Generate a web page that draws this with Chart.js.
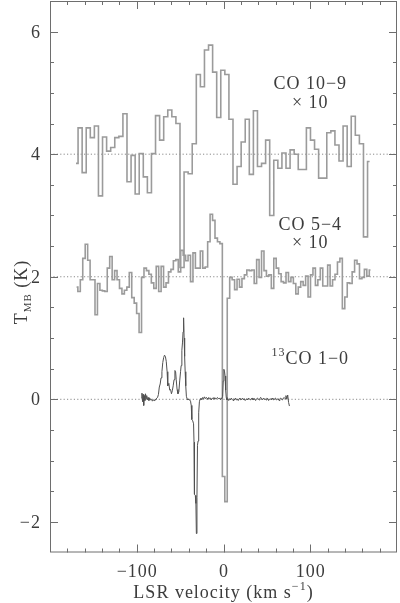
<!DOCTYPE html>
<html>
<head>
<meta charset="utf-8">
<script src="https://cdn.jsdelivr.net/npm/chart.js@4.4.1/dist/chart.umd.min.js"></script>
<style>
html,body{margin:0;padding:0;background:#fff;}
canvas{display:block;}
</style>
</head>
<body>
<canvas id="c" width="400" height="603"></canvas>
<script>
// ---------------- DATA ----------------
// CO 10-9 (x10, offset to the 4 K baseline): channel centre of first bin and channel width (km/s)
const co109Start = -170.0;
const co109Step = 4.70;
const co109Values = [
  3.85,4.43,3.70,4.43,4.27,4.46,3.32,4.28,4.05,4.11,
  4.27,4.29,4.66,3.55,3.98,3.35,4.01,3.63,3.37,4.01,
  4.63,4.23,4.61,4.72,4.61,4.50,2.15,3.71,3.68,4.17,
  5.30,5.10,5.70,5.78,5.34,4.60,5.37,5.30,4.57,3.51,
  3.80,4.20,4.57,3.67,4.71,3.80,3.85,4.23,3.00,3.90,
  3.77,4.02,3.77,4.07,4.00,3.75,3.75,4.43,4.23,4.08,
  3.61,3.61,4.35,4.38,4.15,3.89,4.46,3.80,4.62,4.31,
  4.17,2.65,3.88
];

// CO 5-4 (x10, offset to the 2 K baseline)
const co54Start = -169.3;
const co54Step = 2.823;
const co54Values = [
  1.83,1.76,1.95,2.30,2.53,2.27,1.95,1.95,1.38,1.89,
  1.78,1.77,1.76,2.14,2.33,1.95,2.10,1.95,1.81,1.72,
  1.78,1.83,2.07,1.66,1.57,1.40,1.09,1.99,2.14,2.10,
  2.04,1.90,1.81,2.17,1.76,2.17,1.83,1.90,2.08,2.12,
  2.26,2.28,2.08,2.43,2.35,2.26,2.35,1.92,2.39,2.14,
  2.14,2.42,2.14,2.16,2.57,3.02,2.92,2.63,2.57,2.54,
  -1.26,-1.67,
  1.65,1.99,1.95,1.79,1.96,1.83,1.97,2.03,2.11,2.10,
  2.11,1.89,2.28,1.99,2.42,2.10,2.01,2.03,1.81,2.30,
  2.14,2.05,1.92,1.90,2.07,1.92,1.99,1.89,1.72,1.83,
  1.92,1.86,2.01,1.67,2.03,2.14,1.86,1.95,2.14,1.85,
  1.85,2.19,1.85,1.95,2.04,2.24,2.30,1.48,1.67,1.90,
  1.89,2.08,2.27,2.21,1.97,1.99,2.12,2.01,2.11
];

// 13CO 1-0 (unscaled, 0 K baseline)
const co13Velocity = [
  -94.6,-94.0,-93.3,-92.7,-92.0,-91.3,-90.6,-89.9,-89.2,-88.5,
  -87.8,-87.0,-86.0,-85.0,-84.0,-83.0,-82.0,-81.0,-80.0,-79.0,
  -78.0,-77.0,-76.0,-75.0,-74.0,-73.0,-72.0,-71.0,-70.0,-69.0,
  -68.0,-67.0,-66.0,-65.0,-64.5,-64.0,-63.0,-62.0,-61.0,-60.0,
  -59.0,-58.0,-57.0,-56.0,-55.2,-54.5,-53.5,-52.5,-51.5,-50.5,
  -49.5,-48.8,-48.0,-47.3,-46.6,-46.0,-45.4,-44.8,-44.2,-43.5,
  -42.8,-42.0,-41.0,-40.0,-39.0,-38.0,-37.2,-36.5,-35.5,-34.5,
  -34.0,-33.5,-32.5,-31.8,-31.3,-30.6,-30.0,-29.3,-28.6,-27.8,
  -27.0,-26.0,-25.0,-24.0,-23.0,-22.0,-21.0,-20.0,-19.0,-18.0,
  -17.0,-16.0,-15.0,-14.0,-13.0,-12.0,-11.0,-10.0,-9.0,-8.0,
  -7.0,-6.0,-5.0,-4.0,-3.0,-2.0,-1.0,-0.3,0.4,1.1,
  1.8,2.5,3.2,4.0,5.0,6.0,7.0,8.0,9.0,10.0,
  11.0,12.0,13.0,14.0,15.0,16.0,17.0,18.0,19.0,20.0,
  21.0,22.0,23.0,24.0,25.0,26.0,27.0,28.0,29.0,30.0,
  31.0,32.0,33.0,34.0,35.0,36.0,37.0,38.0,39.0,40.0,
  41.0,42.0,43.0,44.0,45.0,46.0,47.0,48.0,49.0,50.0,
  51.0,52.0,53.0,54.0,55.0,56.0,57.0,58.0,59.0,60.0,
  61.0,62.0,63.0,64.0,65.0,66.0,67.0,68.0,69.0,70.0,
  71.0,72.0,73.0,74.0,75.0,76.0
];
const co13Values = [
  0.02,0.10,-0.04,0.08,-0.10,0.06,-0.02,0.09,0.01,0.06,
  -0.01,0.03,-0.02,0.02,-0.01,0.00,-0.03,-0.01,-0.02,0.00,
  -0.01,0.02,0.03,0.08,0.20,0.25,0.35,0.45,0.60,0.68,
  0.72,0.70,0.62,0.45,0.30,0.22,0.26,0.15,0.16,0.09,
  0.14,0.22,0.32,0.47,0.45,0.32,0.16,0.09,0.12,0.30,
  0.45,0.55,0.80,0.92,1.10,1.33,1.00,0.70,0.45,0.22,
  0.05,0.01,-0.01,0.00,-0.01,-0.03,-0.10,-0.33,-0.35,-0.40,
  -0.70,-1.55,-1.57,-1.70,-2.19,-1.60,-0.75,-0.68,-0.22,-0.04,
  0.00,0.02,-0.01,0.03,0.01,0.04,0.01,0.03,0.02,0.00,
  0.03,0.01,0.02,-0.01,0.02,0.01,0.03,0.00,0.02,0.01,
  0.03,0.01,0.02,0.00,0.02,0.01,0.05,0.30,0.49,0.46,
  0.38,0.15,0.03,-0.01,0.01,-0.02,0.01,-0.01,0.02,0.00,
  -0.02,0.01,-0.01,0.02,-0.01,0.00,-0.02,0.01,0.02,-0.01,
  0.00,0.02,-0.01,0.01,-0.02,0.00,0.01,-0.01,0.02,0.00,
  -0.01,0.01,0.02,-0.01,0.00,0.01,-0.02,0.00,0.02,0.01,
  -0.01,0.02,0.03,0.01,-0.01,0.02,0.00,0.01,-0.01,0.02,
  0.01,-0.02,0.00,0.01,-0.01,0.02,0.00,-0.01,0.01,0.02,
  -0.01,0.00,0.01,-0.02,0.01,0.02,0.00,-0.01,0.02,0.03,
  0.01,0.06,0.00,0.07,-0.05,-0.11
];

// Dotted baselines and axis tick labels
const baselineLevels = [0, 2, 4];
const xTickLabels = [-100, 0, 100];
const yTickLabels = [-2, 0, 2, 4, 6];
const xRange = [-200, 200];
const yRange = [-2.5, 6.5];
const xMinorStep = 20;
const yMinorStep = 0.5;

// Text annotations (placed in data coordinates)
const annotations = [
  {text: 'CO 10\u22129', x: 100, y: 5.06},
  {text: '\u00d7 10', x: 100, y: 4.76},
  {text: 'CO 5\u22124', x: 100, y: 2.77},
  {text: '\u00d7 10', x: 100, y: 2.47},
  {sup: '13', text: 'CO 1\u22120', x: 100, y: 0.576}
];

// ---------------- STYLE ----------------
const FONT = '"Liberation Serif", "Times New Roman", serif';
const TEXT_COLOR = '#3c3c3c';
const AXIS_COLOR = '#6e6e6e';
const CO_COLOR = '#9b9b9b';
const CO13_COLOR = '#505050';

function series(start, step, vals) {
  return vals.map((v, i) => ({x: start + i * step, y: v}));
}
function pairs(xs, ys) {
  return xs.map((x, i) => ({x: x, y: ys[i]}));
}

const datasets = [];
baselineLevels.forEach(level => {
  datasets.push({
    data: [{x: xRange[0], y: level}, {x: xRange[1], y: level}],
    borderColor: '#8a8a8a', borderWidth: 1, borderDash: [1.2, 2.2],
    pointRadius: 0, fill: false, order: 5
  });
});
datasets.push({
  data: series(co109Start, co109Step, co109Values),
  borderColor: CO_COLOR, borderWidth: 1.6, stepped: 'middle',
  pointRadius: 0, fill: false, order: 3
});
datasets.push({
  data: series(co54Start, co54Step, co54Values),
  borderColor: CO_COLOR, borderWidth: 1.6, stepped: 'middle',
  pointRadius: 0, fill: false, order: 2
});
datasets.push({
  data: pairs(co13Velocity, co13Values),
  borderColor: CO13_COLOR, borderWidth: 1, tension: 0,
  pointRadius: 0, fill: false, order: 1
});

function drawText(ctx, str, x, y, size, align) {
  ctx.font = size + 'px ' + FONT;
  ctx.textAlign = align || 'left';
  ctx.fillText(str, x, y);
}

const decor = {
  id: 'decor',
  afterDatasetsDraw(chart) {
    const {ctx, chartArea: a, scales} = chart;
    const xs = scales.x, ys = scales.y;
    ctx.save();
    ctx.strokeStyle = AXIS_COLOR;
    ctx.lineWidth = 1;
    ctx.setLineDash([]);
    ctx.strokeRect(a.left + 0.5, a.top + 0.5, a.right - a.left - 1, a.bottom - a.top - 1);

    ctx.beginPath();
    // x ticks (bottom & top, inward)
    for (let v = xRange[0] + xMinorStep; v < xRange[1]; v += xMinorStep) {
      const px = Math.round(xs.getPixelForValue(v)) + 0.5;
      const len = xTickLabels.includes(v) ? 8 : 4;
      ctx.moveTo(px, a.bottom); ctx.lineTo(px, a.bottom - len);
      ctx.moveTo(px, a.top); ctx.lineTo(px, a.top + len);
    }
    // y ticks (left & right, inward)
    for (let t = yRange[0] + yMinorStep; t < yRange[1] - 1e-6; t += yMinorStep) {
      const py = Math.round(ys.getPixelForValue(t)) + 0.5;
      const major = yTickLabels.some(l => Math.abs(l - t) < 1e-6);
      const len = major ? 8 : 4;
      ctx.moveTo(a.left, py); ctx.lineTo(a.left + len, py);
      ctx.moveTo(a.right, py); ctx.lineTo(a.right - len, py);
    }
    ctx.stroke();

    ctx.fillStyle = TEXT_COLOR;
    ctx.textBaseline = 'alphabetic';
    ctx.letterSpacing = '1px';
    const fmt = v => (v < 0 ? '\u2212' + Math.abs(v) : String(v));
    xTickLabels.forEach(v => {
      drawText(ctx, fmt(v), xs.getPixelForValue(v) + 0.5, a.bottom + 24.5, 18, 'center');
    });
    yTickLabels.forEach(t => {
      drawText(ctx, fmt(t), a.left - 9, ys.getPixelForValue(t) + 6, 18, 'right');
    });

    // x title with superscript
    ctx.font = '18px ' + FONT;
    const t1 = 'LSR velocity (km s';
    const t2 = '\u22121';
    const t3 = ')';
    const w1 = ctx.measureText(t1).width;
    ctx.font = '12px ' + FONT;
    const w2 = ctx.measureText(t2).width;
    ctx.font = '18px ' + FONT;
    const w3 = ctx.measureText(t3).width;
    const cx = (a.left + a.right) / 2;
    let sx = cx - (w1 + w2 + w3) / 2;
    const by = 597.5;
    drawText(ctx, t1, sx, by, 18, 'left');
    drawText(ctx, t2, sx + w1, by - 8, 12, 'left');
    drawText(ctx, t3, sx + w1 + w2, by, 18, 'left');

    // y title (rotated) T_MB (K)
    ctx.save();
    ctx.translate(27, 292);
    ctx.rotate(-Math.PI / 2);
    ctx.font = '18px ' + FONT;
    const ya = 'T', yb = 'MB', yc = ' (K)';
    const wa = ctx.measureText(ya).width;
    ctx.font = '11px ' + FONT;
    const wb = ctx.measureText(yb).width;
    ctx.font = '18px ' + FONT;
    const wc = ctx.measureText(yc).width;
    let s = -(wa + wb + wc) / 2;
    drawText(ctx, ya, s, 0, 18, 'left');
    drawText(ctx, yb, s + wa, 4, 11, 'left');
    drawText(ctx, yc, s + wa + wb, 0, 18, 'left');
    ctx.restore();

    // annotations
    annotations.forEach(an => {
      const px = xs.getPixelForValue(an.x);
      const py = ys.getPixelForValue(an.y);
      if (an.sup) {
        ctx.font = '12px ' + FONT;
        const ws = ctx.measureText(an.sup).width;
        ctx.font = '18px ' + FONT;
        const wt = ctx.measureText(an.text).width;
        const x0 = px - (ws + wt) / 2;
        drawText(ctx, an.sup, x0, py - 8, 12, 'left');
        drawText(ctx, an.text, x0 + ws, py, 18, 'left');
      } else {
        drawText(ctx, an.text, px, py, 18, 'center');
      }
    });
    ctx.restore();
  }
};

new Chart(document.getElementById('c'), {
  type: 'line',
  data: {datasets: datasets},
  options: {
    responsive: false,
    devicePixelRatio: 1,
    animation: false,
    layout: {padding: {left: 50, right: 3, top: 1, bottom: 50.5}},
    plugins: {legend: {display: false}, tooltip: {enabled: false}},
    scales: {
      x: {type: 'linear', min: xRange[0], max: xRange[1], display: false},
      y: {type: 'linear', min: yRange[0], max: yRange[1], display: false}
    },
    elements: {line: {borderCapStyle: 'butt', borderJoinStyle: 'miter'}}
  },
  plugins: [decor]
});
</script>
</body>
</html>
